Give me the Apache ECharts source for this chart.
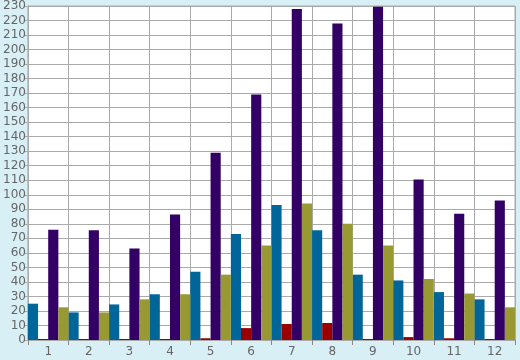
<!DOCTYPE html>
<html><head><meta charset="utf-8">
<script src="https://cdn.jsdelivr.net/npm/echarts@6/dist/echarts.min.js"></script>
<style>html,body{margin:0;padding:0;background:#d9eff6;}#c{width:520px;height:360px;}</style>
</head><body><div id="c"></div>
<script>
const categories = ['1','2','3','4','5','6','7','8','9','10','11','12'];
const blueValues   = [25, 19, 24.5, 31.5, 47, 73, 93, 75.5, 45, 41, 33, 28];
const redValues    = [0.7, 0.7, 0.7, 0.7, 1.2, 8.2, 11, 11.7, 0.7, 2, 1.2, 0.7];
const purpleValues = [76, 75.5, 63, 86.5, 129, 169, 228, 218, 229.5, 110.5, 87, 96];
const oliveValues  = [22.5, 19, 28, 31.5, 45, 65, 94, 80, 65, 42, 32, 22.5];
const yTicks = {min: 0, max: 230, step: 10};

const chart = echarts.init(document.getElementById('c'));
const labelStyle = {color: '#666', fontFamily: 'DejaVu Sans', fontSize: 12};
const mk = (name, data, color) => ({
  name, type: 'bar', data, barGap: '0%', barCategoryGap: '0%',
  itemStyle: {color}, emphasis: {disabled: true}
});
chart.setOption({
  animation: false,
  backgroundColor: '#d9eff6',
  grid: {left: 26, right: 5, top: 5, bottom: 20, show: true, backgroundColor: '#fff', borderColor: '#aaa', borderWidth: 1},
  xAxis: {
    type: 'category', data: categories, boundaryGap: true,
    axisLine: {lineStyle: {color: '#aaa'}},
    axisTick: {show: true, length: 5, lineStyle: {color: '#888'}},
    axisLabel: Object.assign({margin: 6}, labelStyle),
    splitLine: {show: true, lineStyle: {color: '#aaa', width: 1}}
  },
  yAxis: {
    type: 'value', min: yTicks.min, max: yTicks.max, interval: yTicks.step,
    axisLine: {show: true, lineStyle: {color: '#aaa'}},
    axisTick: {show: true, length: 4, lineStyle: {color: '#aaa'}},
    axisLabel: Object.assign({margin: 2}, labelStyle),
    splitLine: {show: true, lineStyle: {color: '#aaa', width: 1}}
  },
  series: [
    mk('blue', blueValues, '#006699'),
    mk('red', redValues, '#990000'),
    mk('purple', purpleValues, '#330066'),
    mk('olive', oliveValues, '#999933')
  ]
});
</script></body></html>
